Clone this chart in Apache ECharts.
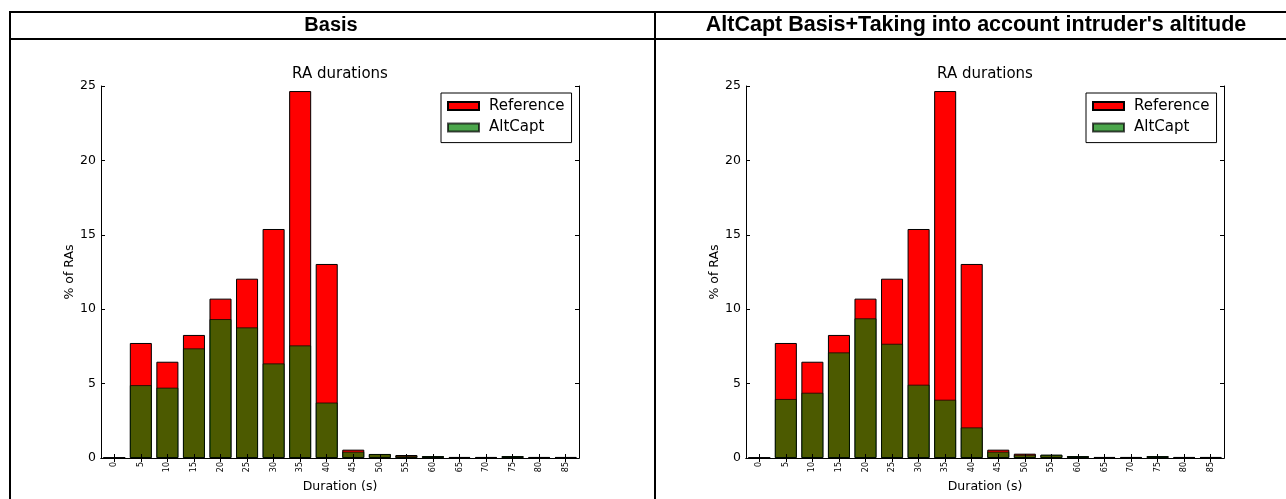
<!DOCTYPE html>
<html>
<head>
<meta charset="utf-8">
<script src="https://cdn.jsdelivr.net/npm/echarts@6/dist/echarts.min.js"></script>
<style>
html,body{margin:0;padding:0;background:#fff;}
#c{width:1286px;height:499px;}
</style>
</head>
<body>
<div id="c"></div>
<script>
// ---- data ----
const categories = ['0','5','10','15','20','25','30','35','40','45','50','55','60','65','70','75','80','85'];
const referenceBasis = [0.02, 7.73, 6.47, 8.27, 10.71, 12.05, 15.39, 24.66, 13.04, 0.56, 0.27, 0.2, 0.13, 0.07, 0.07, 0.13, 0.07, 0.07];
const altCaptBasis   = [0.02, 4.9, 4.73, 7.37, 9.34, 8.78, 6.36, 7.57, 3.73, 0.43, 0.27, 0.15, 0.13, 0.07, 0.07, 0.13, 0.07, 0.07];
const referenceAlt   = [0.02, 7.73, 6.47, 8.27, 10.71, 12.05, 15.39, 24.66, 13.04, 0.56, 0.29, 0.22, 0.13, 0.07, 0.07, 0.13, 0.07, 0.07];
const altCaptAlt     = [0.02, 3.97, 4.39, 7.1, 9.39, 7.68, 4.93, 3.92, 2.06, 0.43, 0.22, 0.22, 0.13, 0.07, 0.07, 0.13, 0.07, 0.07];
const headers = ['Basis', "AltCapt Basis+Taking into account intruder's altitude"];
const chartTitle = 'RA durations';
const xName = 'Duration (s)';
const yName = '% of RAs';
const seriesNames = ['Reference', 'AltCapt'];

// ---- layout ----
const panels = [
  {left: 101, top: 86, width: 478, height: 372, headerX: 331, headerSize: 20, ref: referenceBasis, alt: altCaptBasis},
  {left: 746, top: 86, width: 478, height: 372, headerX: 976, headerSize: 21.5, ref: referenceAlt, alt: altCaptAlt}
];
const F = 'DejaVu Sans';

const grids = [], xAxes = [], yAxes = [], series = [], legends = [], graphics = [];

// table lines
const L = (x1,y1,x2,y2) => ({type:'line', shape:{x1,y1,x2,y2}, style:{stroke:'#000', lineWidth:2}, z:10});
graphics.push(L(9,12,1300,12), L(9,39,1300,39), L(10,11,10,520), L(655,11,655,520));

panels.forEach((p, i) => {
  grids.push({left: p.left, top: p.top, width: p.width, height: p.height, containLabel: false});
  const tick = {show: true, inside: true, length: 4, alignWithLabel: true, lineStyle: {color: '#000', width: 1}};
  xAxes.push({
    type: 'category', gridIndex: i, data: categories, boundaryGap: true, z: 5,
    axisLine: {lineStyle: {color: '#000', width: 1}},
    axisTick: tick,
    axisLabel: {rotate: 90, fontSize: 8, fontFamily: F, color: '#000', margin: 4, interval: 0},
    name: xName, nameLocation: 'middle', nameGap: 17,
    nameTextStyle: {fontSize: 12.5, fontFamily: F, color: '#000'}
  });
  xAxes.push({
    type: 'category', gridIndex: i, data: categories, boundaryGap: true, position: 'top', z: 5,
    axisLine: {lineStyle: {color: '#000', width: 1}},
    axisTick: tick, axisLabel: {show: false}
  });
  yAxes.push({
    type: 'value', gridIndex: i, min: 0, max: 25, interval: 5, z: 5,
    axisLine: {show: true, lineStyle: {color: '#000', width: 1}},
    axisTick: {show: true, inside: true, length: 4, lineStyle: {color: '#000'}},
    splitLine: {show: false},
    axisLabel: {fontSize: 12.5, fontFamily: F, color: '#000', margin: 5},
    name: yName, nameLocation: 'middle', nameGap: 24,
    nameTextStyle: {fontSize: 12.5, fontFamily: F, color: '#000'}
  });
  yAxes.push({
    type: 'value', gridIndex: i, min: 0, max: 25, interval: 5, position: 'right', z: 5,
    axisLine: {show: true, lineStyle: {color: '#000', width: 1}},
    axisTick: {show: true, inside: true, length: 4, lineStyle: {color: '#000'}},
    splitLine: {show: false}, axisLabel: {show: false}
  });
  series.push({
    name: seriesNames[0], type: 'bar', xAxisIndex: i*2, yAxisIndex: i*2, data: p.ref,
    barWidth: '83%', barGap: '-100%',
    itemStyle: {color: '#ff0000', borderColor: '#000', borderWidth: 1}
  });
  series.push({
    name: seriesNames[1], type: 'bar', xAxisIndex: i*2, yAxisIndex: i*2, data: p.alt,
    barWidth: '83%', barGap: '-100%',
    itemStyle: {color: 'rgba(0,128,0,0.7)', borderColor: 'rgba(0,0,0,0.7)', borderWidth: 1}
  });
  legends.push({
    data: seriesNames, orient: 'vertical', left: p.left + 340, top: 93,
    icon: 'rect', itemWidth: 31, itemHeight: 8, itemGap: 5.6,
    padding: [5, 7, 7, 6],
    backgroundColor: '#fff', borderColor: '#000', borderWidth: 1,
    textStyle: {fontSize: 15, fontFamily: F, color: '#000', lineHeight: 16, padding: [0,0,0,5]}
  });
  graphics.push({type: 'text', x: p.headerX, y: 25.5, z: 10,
    style: {text: headers[i], textAlign: 'center', textVerticalAlign: 'middle',
      font: 'bold ' + p.headerSize + 'px "Liberation Sans", Arial, sans-serif', fill: '#000'}});
  graphics.push({type: 'text', x: p.left + p.width/2, y: 74, z: 10,
    style: {text: chartTitle, textAlign: 'center', textVerticalAlign: 'middle',
      font: '15px "DejaVu Sans", sans-serif', fill: '#000'}});
});

const chart = echarts.init(document.getElementById('c'), null, {renderer: 'canvas'});
chart.setOption({
  animation: false,
  backgroundColor: '#fff',
  grid: grids, xAxis: xAxes, yAxis: yAxes, series, legend: legends, graphic: graphics
});
</script>
</body>
</html>
